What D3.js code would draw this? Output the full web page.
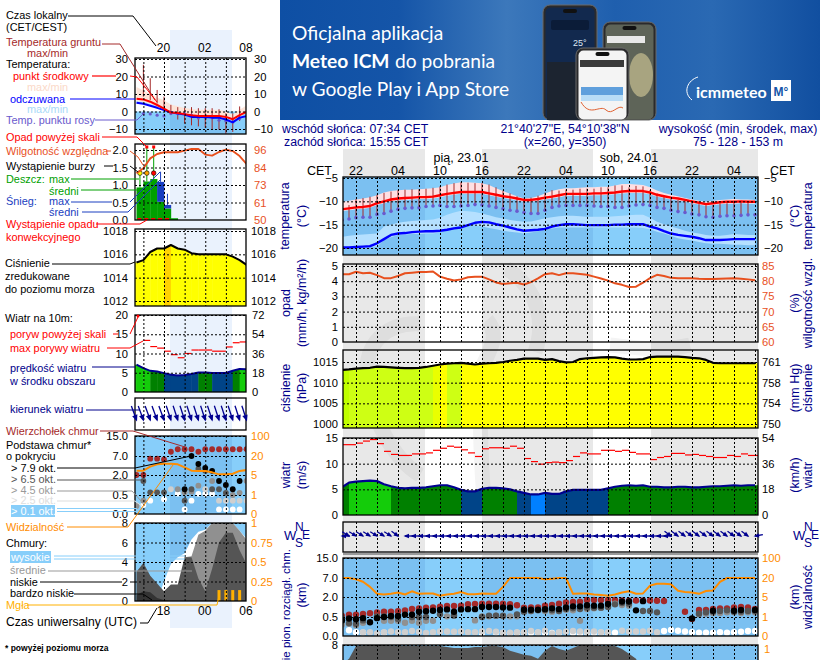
<!DOCTYPE html>
<html>
<head>
<meta charset="utf-8">
<script src="https://cdn.jsdelivr.net/npm/d3@7"></script>
<style>
html,body{margin:0;padding:0;background:#fff;overflow:hidden}
svg{display:block;font-family:"Liberation Sans",Arial,sans-serif}
</style>
</head>
<body>
<div id="chart"></div>
<script>
var n = null;

// ---- short chart (left), hours from 20 CET
var hoursL = d3.range(-4, 13);
var tempL = [7.3,6.9,5.6,3.7,1.7,-0.6,-0.8,-1.5,-2.1,-2.5,-2.5,-2.5,-2.5,-3.1,-4.4,-2.1,-0.2];
var tempMaxL = [14,12,10,8,6.5,4,3,2,1.5,1,1,1,1,0,-1.5,1,3.5];
var tempMinL = [6,5.5,4.5,2.5,0.8,-1.2,-1.5,-2.2,-2.8,-3.2,-3.2,-3.2,-3.2,-3.8,-5,-2.8,-1];
var feelsL = [5,4.4,3.3,2.1,0.8,-0.4,-1.2,-1.7,-3.1,-3.1,-3.1,-3.5,-3.5,-4.6,-6.2,-3.5,-2.7];
var feelsMaxL = [6,5.5,4.5,3,1.5,0,-0.8,-1.2,-2.5,-2.5,-2.5,-2.8,-2.8,-3.8,-5.5,-2.8,-2];
var dewL = [n,-1.2,-1.4,-2.1,-2.5,-1.2,-1.2,-1.2,-2.1,-3.7,-3.5,-3.5,-5,-5.4,-6,-4,n];
var groundMaxL = [n,26.7,19,12.3,8.5,3.8,2.5,2.1,2.5,1.9,1.9,1.9,1.3,-1,-1,2.9,n];
var groundMinL = [n,8.5,6.5,4.6,0.8,-1.5,-4.6,-6.9,-7.9,-8.5,-9.4,-10.4,-10.4,-12.7,-11.7,-5.4,n];
var rainL = [0.93,1.1,1.17,0.52,0.33,0.05,0,0,0,0,0,0,0,0,0,0,0];
var snowL = [0,0,0,0.57,0.1,0,0,0,0,0,0,0,0,0,0,0,0];
var rainMaxL = [1.33,2.3,2.3,0,0,0,0,0,0,0,0,0,0,0,0,0,0];
var snowMaxL = [0,0,0,1.38,0.75,0,0,0,0,0,0,0,0,0,0,0,0];
var stormL = [1,2,3,0,0,0,0,0,0,0,0,0,0,0,0,0,0];
var convL = [1,1,1,1,1,0,0,0,0,0,0,0,0,0,0,0,0];
var humL = [80.7,84,90.5,93.4,94.5,94.5,94.5,95.6,96.7,96.7,93,92.3,94.7,96.2,95.3,92,86.8];
var pressL = [1015.3,1015.5,1016.2,1016.5,1016.5,1016.8,1016.5,1016.4,1016.1,1016,1016,1016,1016,1016,1015.8,1015.5,1015.1];
var pressToneL = [0,0,0,0,4,0,0,0,0,0,0,0,0,0,0,0,0];
var windL = [7.1,6.2,5.5,5.3,4.9,4.5,4.3,4.4,4.7,5.05,5.05,4.95,4.95,4.95,5.5,6,5.9];
var gustL = [n,13.4,11.8,11.4,10.6,9.7,8.9,10,10.9,10.9,10.9,10.6,10.6,11.7,12.8,13,n];
var dirL = [70,70,70,70,70,72,72,72,72,72,72,72,72,72,72,72,72];
var visL = [8.4,8.4,11.6,13.4,13.9,13.9,13.4,11,8.4,8.2,8.2,7.1,5.5,5.5,6,8.2,8.9];
var topL = [2,2,6.3,6.3,6.1,8.7,9.7,9.7,9.7,8.7,9.7,9.7,9.7,9.7,9.7,9.7,9.7];
var base79L = [n,n,n,n,n,n,n,0.93,7,4.9,3.9,3.1,1.55,1.25,0.93,1.55,n];
var base65L = [n,1.55,0.7,0.7,0.7,n,n,0.35,0.93,3.6,3.1,0.93,0.93,0.66,n,n,n];
var base45L = [0.21,0.35,n,n,n,n,0.93,0.7,0.75,1.2,n,1.55,n,n,0.5,0.66,1.55];
var base25L = [0.21,n,n,n,n,0.93,n,0.7,n,n,0.93,n,0.35,0.35,0.35,0.35,0.35];
var base01L = [n,0.24,0.35,n,0.39,n,0.6,0.12,0.35,0.59,0.59,0.59,0.12,0.12,0.12,0.12,n];
var cloudHighL = [0,0,0,0,2,3.8,4.5,4.9,6.3,7.1,7.3,8,8,8,8,7.2,6.4];
var cloudMidL = [0,0,0,0,0,0,0,4.5,4.6,6.8,7.2,8,8,8,8,7.2,6.3];
var cloudLowL = [3,3.9,2.6,1.8,1,1.7,1.7,4.5,4.5,2.3,1,3.3,6,7,7,5.2,3.8];
var cloudVeryLowL = [0.6,1,0.9,0.3,0.1,0,0,0,0,0,0,0,0,0,0,0,0];
var fogL = [0,0,0,0,0,0,0,0,0,0,0,0,0.14,0.14,0.14,0.14,0];

// ---- long chart (right), hours from 22 CET
var hoursR = d3.range(-2, 58);
var tempR = [-11.7,-11.5,-11.3,-11.2,-11.0,-10.4,-10.0,-9.6,-9.4,-9.3,-9.2,-9.1,-9.1,-9.0,-8.7,-8.4,-8.2,-8.0,-8.0,-8.0,-8.0,-8.3,-8.6,-8.9,-9.1,-9.4,-9.7,-9.7,-9.5,-9.2,-9.0,-8.7,-8.4,-8.4,-8.4,-8.4,-8.3,-8.3,-8.2,-8.1,-7.9,-7.8,-7.8,-7.8,-8.1,-8.6,-8.9,-9.2,-9.4,-9.7,-10.0,-10.3,-10.6,-10.4,-10.2,-10.1,-10.1,-10.0,-10.1,-10.1];
var tempMaxR = [-10.1,-9.9,-9.6,-9.4,-9.1,-8.7,-8.1,-7.8,-7.6,-7.5,-7.5,-7.4,-7.3,-7.2,-7.0,-6.5,-6.2,-5.9,-5.9,-6.0,-6.1,-6.5,-7.2,-7.8,-8.4,-8.9,-9.4,-9.3,-8.9,-8.3,-7.8,-7.4,-7.2,-7.2,-7.1,-7.0,-7.0,-6.9,-6.9,-6.6,-6.3,-6.3,-6.4,-6.5,-7.0,-7.7,-8.2,-8.6,-8.9,-9.3,-9.6,-9.9,-10.1,-9.9,-9.7,-9.6,-9.5,-9.6,-9.6,-9.7];
var tempMinR = [-12.1,-11.9,-11.7,-11.6,-11.4,-10.8,-10.4,-10.0,-9.8,-9.7,-9.6,-9.5,-9.5,-9.4,-9.1,-8.8,-8.6,-8.4,-8.4,-8.4,-8.4,-8.7,-9.0,-9.3,-9.5,-9.8,-10.1,-10.1,-9.9,-9.6,-9.4,-9.1,-8.8,-8.8,-8.8,-8.8,-8.7,-8.7,-8.6,-8.5,-8.3,-8.2,-8.2,-8.2,-8.5,-9.0,-9.3,-9.6,-9.8,-10.1,-10.4,-10.7,-11.0,-10.8,-10.6,-10.5,-10.5,-10.4,-10.5,-10.5];
var feelsR = [-19.9,-19.9,-19.8,-19.7,-19.6,-19.0,-18.1,-17.2,-16.9,-16.8,-16.6,-16.5,-16.4,-16.4,-16.3,-16.1,-15.8,-15.6,-15.1,-14.6,-14.4,-14.5,-14.9,-15.2,-15.6,-16.0,-16.3,-16.2,-16.1,-15.9,-15.4,-15.1,-14.9,-14.9,-15.0,-15.1,-15.1,-15.1,-15.1,-15.0,-15.0,-14.9,-14.9,-14.9,-15.4,-15.8,-16.4,-16.9,-17.2,-17.4,-17.6,-17.9,-18.3,-18.3,-18.3,-18.2,-18.1,-18.1,-18.1,-18.1];
var feelsMaxR = [-17.6,-17.4,-17.2,-17.1,-17.0,-16.9,-15.4,-15.0,-14.6,-14.4,-14.2,-14.1,-14.0,-13.9,-13.5,-12.9,-12.4,-12.0,-12.1,-12.3,-12.6,-13.0,-13.4,-13.7,-14.0,-14.2,-14.4,-14.3,-14.0,-13.6,-13.4,-13.2,-13.1,-13.1,-13.2,-13.3,-13.3,-13.3,-13.3,-13.2,-13.1,-13.0,-12.9,-12.9,-13.5,-14.4,-14.9,-15.4,-15.8,-16.3,-16.7,-16.9,-17.2,-17.4,-17.4,-17.2,-17.0,-17.1,-17.2,-17.2];
var feelsMinR = [-20.1,-20.0,-20.0,-19.9,-19.8,-19.7,-18.3,-17.7,-17.2,-17.1,-17.0,-17.0,-16.9,-16.9,-16.6,-16.0,-15.5,-15.1,-15.1,-15.2,-15.4,-15.7,-16.0,-16.3,-16.5,-16.7,-16.9,-16.7,-16.4,-16.0,-15.8,-15.6,-15.6,-15.6,-15.6,-15.6,-15.6,-15.6,-15.6,-15.6,-15.6,-15.6,-15.6,-15.7,-16.0,-16.5,-16.9,-17.4,-17.9,-18.2,-18.4,-18.7,-19.0,-19.1,-19.1,-19.2,-19.3,-19.3,-19.4,-19.4];
var dewR = [-14.0,-13.8,-13.5,-13.4,-13.4,-12.8,-12.6,-12.1,-11.7,-11.5,-11.4,-11.4,-11.1,-11.0,-10.9,-11.1,-11.1,-11.0,-10.9,-10.7,-10.8,-11.0,-11.3,-11.6,-11.9,-12.1,-12.4,-12.6,-12.6,-11.9,-11.3,-11.0,-10.9,-10.9,-10.9,-10.9,-11.0,-11.1,-11.1,-11.3,-11.3,-11.0,-10.8,-10.7,-10.9,-11.3,-11.5,-11.9,-12.2,-12.4,-12.7,-12.9,-13.3,-13.4,-13.2,-13.1,-13.1,-13.0,-12.9,-12.9];
var groundMaxR = [n,-10.8,-9.5,-9.3,-9.0,-8.6,-8.2,-7.9,-7.6,-7.5,-7.4,-7.4,-7.3,-7.1,-6.8,-6.4,-6.1,-5.9,-6.0,-6.1,-6.1,-6.4,-7.0,-7.7,-8.3,-8.9,-9.4,-9.2,-8.8,-8.1,-7.6,-7.7,-7.5,-7.5,-7.3,-7.3,-7.3,-7.0,-7.0,-6.6,-6.6,-7.0,-6.7,-6.8,-7.6,-8.3,-9.0,-9.4,-9.7,-9.7,-10.1,-10.6,-10.8,-10.8,-10.4,-10.4,-9.9,-9.9,-9.9,n];
var groundMinR = [n,-13.6,-13.3,-13.2,-13.2,-12.6,-12.4,-11.9,-11.5,-11.3,-11.2,-11.2,-10.9,-10.8,-10.7,-10.9,-10.9,-10.8,-10.7,-10.5,-10.6,-10.8,-11.1,-11.4,-11.7,-11.9,-12.2,-12.4,-12.4,-11.7,-11.1,-10.8,-10.7,-10.7,-10.7,-10.7,-10.8,-10.9,-10.9,-11.1,-11.1,-10.8,-10.6,-10.5,-10.7,-11.1,-11.3,-11.7,-12.0,-12.2,-12.5,-12.7,-13.1,-13.2,-13.0,-12.9,-12.9,-12.8,-12.7,n];
var humR = [82.3,82.3,83.1,82.6,82.8,82,81,81,81.7,82.6,82.8,83,83,83.2,81.5,80.8,80.2,80.6,81.3,81.5,81.5,80.6,79.6,79.1,79.3,79.5,78.9,79.7,80.9,82.3,82.6,82.0,82.6,82.6,82.4,82.1,81.5,80.9,80.2,79.3,78.8,78.1,78.2,79.5,81.0,82.1,81.7,81.1,81.0,81.0,81.0,80.8,80.7,80.7,80.8,80.9,81.0,80.8,80.6,80.3];
var pressR = [1013.1,1013.2,1013.4,1013.5,1013.6,1013.9,1013.8,1013.7,1013.6,1013.5,1013.5,1013.6,1013.8,1014.1,1014.4,1014.6,1014.7,1014.8,1014.6,1014.4,1014.6,1014.7,1014.8,1015.0,1015.3,1015.5,1015.8,1015.8,1015.8,1015.5,1015.7,1015.2,1014.9,1015.0,1015.7,1015.9,1016.0,1016.1,1016.2,1016.1,1015.8,1015.6,1015.6,1015.7,1016.2,1016.3,1016.3,1016.3,1016.3,1016.2,1016.0,1015.9,1015.5,1014.8,1014.7,1014.7,1014.7,1014.7,1014.7,1014.7];
var pressToneR = [3,2,2,2,2,2,2,2,2,2,2,2,2,1,0,2,2,0,0,0,0,0,0,0,0,0,0,0,0,0,0,0,0,0,0,0,0,0,0,0,0,0,0,0,0,0,0,0,0,0,0,0,0,0,0,0,0,0,0,0];
var windR = [5.4,6.3,6.5,6.6,6.7,6.6,6.0,5.6,5.3,5.2,5.3,5.3,5.4,5.6,5.8,5.8,5.4,4.9,4.6,4.6,5.1,5.3,5.3,5.2,5.0,4.6,4.3,4.0,4.0,4.3,4.1,4.1,4.6,4.9,4.9,4.9,4.9,4.9,5.2,5.5,5.7,5.8,5.7,5.8,5.5,5.5,5.4,5.4,5.5,5.5,5.4,5.4,5.5,5.6,5.6,5.7,5.8,5.7,5.8,5.8];
var gustR = [13.7,13.7,14.0,14.4,14.7,13.9,12.4,11.8,11.6,11.6,11.9,11.9,12.1,12.6,13.0,13.4,13.2,12.7,12.1,11.4,12.9,13.1,13.1,13.0,13.4,13.0,11.0,10.4,9.9,10.2,10.3,10.2,10.6,11.4,12.1,11.9,11.9,12.6,12.6,12.4,12.6,12.2,11.9,11.9,10.8,11.2,11.4,12.0,12.0,11.7,11.8,11.6,11.4,11.2,11.2,11.6,11.4,11.9,11.6,11.6];
var dirR = [180,32,32,32,32,32,32,32,36,180,180,180,180,180,180,180,180,180,180,180,180,180,180,180,180,180,180,180,180,180,180,180,180,180,180,180,180,180,180,180,180,180,180,180,180,180,180,36,36,36,36,36,36,36,36,36,36,36,36,170];
var visR = [20,20,19,17,13,7.5,7,7.5,8.5,7,9.5,7.5,7.7,7.7,6,7,7.5,9,7.2,7.2,7.8,7.5,7.5,13,20,20,20,20,20,19,19.5,20,20,7.5,7.8,7.8,7,6.5,6,7,8.5,9.5,7.6,7.8,14,15.5,15.5,15,10,9,8.5,7.5,9.7,10.2,17,20,20,20,20,20];
var topR = [0.58,0.68,0.68,0.73,0.78,0.84,0.89,0.89,0.94,1.0,1.1,1.15,1.2,1.22,1.28,1.33,1.33,1.35,1.46,1.48,1.5,1.5,1.5,1.5,1.46,1.38,1.2,1.22,1.22,1.35,1.4,1.5,1.59,1.62,1.64,1.77,1.77,1.77,1.77,1.77,1.74,1.72,1.74,1.74,1.74,1.72,1.7,n,n,0.89,0.45,1.02,1.02,1.1,1.15,1.15,1.22,1.25,1.22,1.1];
var base79R = [0.41,0.46,0.44,0.47,0.36,0.47,0.5,0.58,0.58,0.68,0.68,0.89,0.94,0.97,1.02,1.07,0.89,1.07,1.09,1.09,1.25,1.25,1.25,1.22,1.2,n,1.04,1.04,1.04,1.09,1.15,1.09,1.22,1.3,1.3,1.38,1.35,1.35,1.48,n,1.66,1.66,1.0,1.69,n,n,n,n,n,n,0.46,n,n,0.97,n,n,0.97,1.02,n,1.02];
var base65R = [0.47,0.34,0.32,0.41,n,0.55,0.55,0.5,0.45,n,0.5,0.5,0.5,n,0.7,n,0.6,n,n,n,0.5,0.6,0.6,0.6,n,0.7,0.9,0.95,1,1.02,1.0,0.95,1.1,1.15,1.1,1.2,1.2,1.2,1.25,1.45,1.55,1.5,n,0.95,0.95,0.85,n,n,n,n,n,0.75,0.85,0.9,0.95,1,0.9,0.9,0.95,0.95];
var base45R = [0.3,0.32,0.28,0.35,n,n,0.4,0.4,0.4,0.35,0.4,0.35,0.4,0.4,n,0.55,0.65,n,n,0.41,0.55,0.55,0.6,0.55,0.55,0.55,0.95,0.95,n,0.95,0.9,0.95,1.05,1.0,0.4,1.1,1.15,1.2,1.4,1.5,1.4,1.35,n,n,n,n,n,n,n,n,n,0.7,0.75,0.8,0.8,0.85,0.85,0.8,0.85,0.85];
var base25R = [n,n,n,0.1,0.1,0.07,0.1,0.12,0.1,0.1,0.13,0.11,0.08,0.1,0.12,0.12,0.11,0.12,0.1,0.1,0.12,0.13,0.11,0.09,0.09,0.1,0.1,0.13,0.1,0.14,0.07,0.1,0.11,0.13,0.12,0.11,0.12,0.1,0.1,n,0.14,0.12,0.12,0.12,0.14,0.1,n,n,n,n,n,n,n,n,n,n,n,n,n,n];
var base01R = [n,0.15,0.1,0.09,n,n,0.09,n,n,n,n,n,n,n,n,n,n,n,n,n,0.08,n,0.09,0.08,0.07,0.08,0.09,0.08,0.09,0.08,0.08,0.08,n,0.08,0.06,0.09,0.08,0.09,0.08,0.09,n,n,n,n,n,n,0.13,0.16,0.14,0.12,0.1,0.09,0.09,0.09,0.1,0.09,0.1,0.11,0.13,0.13];
var cloudLowR = [6,6.6,7.9,7.95,8,8,8,7.95,7.9,7.9,7.9,7.9,7.9,7.9,7.9,7.8,7.7,7.7,7.7,7.8,7.8,7.9,7.9,7.8,7.4,7.2,7,6.9,6.6,7.4,7.9,7.6,7.4,7.7,8,8,7.95,7.9,7.9,7.9,7.6,7.1,6.6,5,4,3,3,3,3,3,3,3,3,3,3,3,3,3,3,3];

// axis labels
var dateLabels = [["pią, 23.01", 15], ["sob, 24.01", 39]];
var localTicksR = ["22","04","10","16","22","04","10","16","22","04"];
var tickTempL = [30,20,10,0,-10];
var tickRainL = [2,1.5,1,0.5,0];
var tickHumL = ["96","84","73","61","50"];
var tickPressL = [1018,1016,1014,1012];
var tickWindL = [20,15,10,5,0];
var tickWindKmL = ["72","54","36","18","0"];
var tickCloudBase = [15,7,2,0.5,0];
var tickVis = ["100","20","5","1","0"];
var tickOkta = [8,6,4,2,0];
var tickFog = ["1","0.75","0.5","0.25","0"];
var tickTempR = [-5,-10,-15,-20];
var tickRainR = [5,4,3,2,1,0];
var tickHumR = ["85","80","75","70","65","60"];
var tickPressR = [1015,1010,1005,1000];
var tickPressHgR = ["761","758","754","750"];
var tickWindR = [15,10,5,0];
var tickWindKmR = ["54","36","18","0"];

var INK = "#000", NAVY = "#00008b";
var RED = "#f00", BLUE = "#0000ff", BROWN = "#a52a2a", HUM = "#e8501e", ORANGE = "#ff8c00", DEW = "#6a5acd", FOG = "#ffb000";
var SKY = "#87cefa", NIGHT = "rgba(10,60,150,0.09)";
var BASECOL = {top: "#a52a2a", c79: "#000", c65: "#555", c45: "#909090", c25: "#cfcfcf", c01: "#fff"};
var NIGHTS_R = [[343, 425], [482, 593], [651, 758]];

var svg = d3.select("#chart").append("svg").attr("width", 820).attr("height", 660);
var defs = svg.append("defs");
var clipCount = 0;

// text helper, all annotation goes through here
function put(g, s, x, y, col, size, anchor, weight) {
  return g.append("text").attr("x", x).attr("y", y).attr("fill", col || INK)
    .attr("font-size", size || 10.9).attr("text-anchor", anchor || "start")
    .attr("font-weight", weight || null).text(s);
}
function leader(g, pts, col, w) {
  g.append("path").attr("d", d3.line()(pts)).attr("fill", "none")
    .attr("stroke", col).attr("stroke-width", w || 1);
}
function vtitle(g, s, x, y, size) {
  g.append("text").attr("transform", "translate(" + x + "," + y + ") rotate(-90)")
    .attr("text-anchor", "middle").attr("fill", NAVY).attr("font-size", size || 12.5).text(s);
}

function panel(o) {
  var id = "clip" + (clipCount++);
  defs.append("clipPath").attr("id", id).append("rect")
    .attr("x", o.x0).attr("y", o.y0).attr("width", o.x1 - o.x0).attr("height", o.y1 - o.y0);
  var g = svg.append("g");
  var marks = g.append("g").attr("clip-path", "url(#" + id + ")");
  return {g: g, marks: marks, o: o, id: id};
}
function closePanel(p, x, y, gridH, gridV) {
  var o = p.o;
  var grid = p.g.append("g").attr("clip-path", "url(#" + p.id + ")");
  if (gridH) {
    grid.append("g").attr("transform", "translate(" + o.x0 + ",0)")
      .call(d3.axisRight(y).tickValues(gridH).tickSize(o.x1 - o.x0).tickFormat(""))
      .call(styleGrid);
  }
  grid.append("g").attr("transform", "translate(0," + o.y0 + ")")
    .call(d3.axisBottom(x).tickValues(gridV).tickSize(o.y1 - o.y0).tickFormat(""))
    .call(styleGrid);
  p.g.append("rect").attr("x", o.x0).attr("y", o.y0).attr("width", o.x1 - o.x0).attr("height", o.y1 - o.y0)
    .attr("fill", "none").attr("stroke", "#000").attr("stroke-width", 1.3);
}
function styleGrid(sel) {
  sel.select(".domain").remove();
  sel.selectAll("line").attr("stroke", "#000").attr("stroke-width", 1).attr("stroke-dasharray", "2,2");
}
function tickLabels(g, y, vals, fmt, at, side, col, size) {
  var ax = side == "left" ? d3.axisLeft(y) : d3.axisRight(y);
  var t = g.append("g").attr("transform", "translate(" + at + ",0)")
    .call(ax.tickValues(vals).tickSize(0).tickPadding(0).tickFormat(fmt));
  t.select(".domain").remove();
  t.selectAll("text").attr("fill", col || INK).attr("font-size", size || 11.2)
    .attr("font-family", '"Liberation Sans",Arial,sans-serif');
}
function lookup(vals, labels) {
  return function(v) { return labels[vals.indexOf(v)]; };
}

function drawLine(g, x, y, hours, vals, col, w) {
  var line = d3.line().defined(function(d) { return d[1] !== null; })
    .x(function(d) { return x(d[0]); }).y(function(d) { return y(d[1]); });
  g.append("path").attr("d", line(hours.map(function(h, i) { return [h, vals[i]]; })))
    .attr("fill", "none").attr("stroke", col).attr("stroke-width", w).attr("stroke-linejoin", "round");
}
function drawBand(g, x, y, hours, hi, lo, col) {
  var area = d3.area().x(function(d) { return x(d[0]); })
    .y0(function(d) { return y(d[2]); }).y1(function(d) { return y(d[1]); });
  g.append("path").attr("d", area(hours.map(function(h, i) { return [h, hi[i], lo[i]]; }))).attr("fill", col);
}
function drawDots(g, x, y, hours, vals, col, r) {
  hours.forEach(function(h, i) {
    if (vals[i] === null) return;
    g.append("circle").attr("cx", x(h)).attr("cy", y(vals[i])).attr("r", r).attr("fill", col);
  });
}
function drawVBars(g, x, y, hours, hi, lo, col, w) {
  hours.forEach(function(h, i) {
    if (hi[i] === null) return;
    g.append("line").attr("x1", x(h)).attr("x2", x(h)).attr("y1", y(hi[i])).attr("y2", y(lo[i]))
      .attr("stroke", col).attr("stroke-width", w);
  });
}
// area under a curve, cut in hourly columns coloured from a scale
function toneArea(p, x, y, hours, vals, colorOf, base) {
  var id = "clip" + (clipCount++);
  var area = d3.area().x(function(d) { return x(d[0]); }).y0(y(base)).y1(function(d) { return y(d[1]); });
  var ext = [[x.invert(p.o.x0) - 1, vals[0]]].concat(hours.map(function(h, i) { return [h, vals[i]]; }));
  ext.push([x.invert(p.o.x1) + 1, vals[vals.length - 1]]);
  defs.append("clipPath").attr("id", id).append("path").attr("d", area(ext));
  var layer = p.marks.append("g").attr("clip-path", "url(#" + id + ")");
  ext.slice(0, -1).forEach(function(d, i) {
    var h1 = ext[i + 1][0];
    var col = colorOf(i == 0 ? 0 : i - 1);
    layer.append("rect").attr("x", x(d[0])).attr("width", x(h1) - x(d[0]) + 0.4)
      .attr("y", p.o.y0).attr("height", p.o.y1 - p.o.y0).attr("fill", col);
  });
}
function drawGust(g, x, y, hours, vals) {
  hours.forEach(function(h, i) {
    if (vals[i] === null) return;
    g.append("line").attr("x1", x(h)).attr("x2", x(h + 1)).attr("y1", y(vals[i])).attr("y2", y(vals[i]))
      .attr("stroke", RED).attr("stroke-width", 1.2);
  });
}
function drawArrows(g, x, hours, dirs, yAt, len, head, col) {
  hours.forEach(function(h, i) {
    var a = dirs[i] * Math.PI / 180, hx = x(h), hy = yAt;
    var ux = Math.cos(a), uy = Math.sin(a);
    g.append("line").attr("x1", hx - ux * len).attr("y1", hy - uy * len).attr("x2", hx).attr("y2", hy)
      .attr("stroke", col).attr("stroke-width", 1.3);
    var bx = hx - ux * head, by = hy - uy * head;
    var tri = [[hx + ux * 1.5, hy + uy * 1.5], [bx - uy * head * 0.55, by + ux * head * 0.55], [bx + uy * head * 0.55, by - ux * head * 0.55]];
    g.append("path").attr("d", d3.line()(tri) + "Z").attr("fill", col);
  });
}

var windColor = d3.scaleThreshold().domain([4.05, 5, 6]).range(["#0080ff", "#004488", "#008000", "#14cc0a"]);
var toneColor = d3.scaleOrdinal().domain([0, 1, 2, 3, 4]).range(["#ffff00", "#eaff00", "#ceff14", "#c0ff00", "#ffd200"]);

// ================= page backgrounds ==================
var xR = d3.scaleLinear().domain([0, 57]).range([356, 755]);
svg.append("g").selectAll("rect").data(NIGHTS_R).join("rect")
  .attr("x", function(d) { return d[0]; }).attr("width", function(d) { return d[1] - d[0]; })
  .attr("y", 149).attr("height", 511).attr("fill", "#e8e8e8");
// faint watermark swirl
var wm = svg.append("g").attr("fill", "none").attr("stroke", "rgba(0,0,0,0.045)").attr("stroke-width", 15);
wm.append("path").attr("d", "M420,324 C385,322 365,345 367,375 C370,420 395,460 420,475");
wm.append("path").attr("d", "M487,320 C500,335 490,350 483,365 C478,400 480,450 485,515");
wm.append("path").attr("d", "M506,268 C540,290 545,325 535,352");
wm.append("path").attr("d", "M610,345 C640,348 660,352 690,345");
// night band of the short chart
svg.append("rect").attr("x", 170).attr("y", 30).attr("width", 62).attr("height", 598).attr("fill", "#eaf2fd");

// ================= banner ==================
var grad = defs.append("linearGradient").attr("id", "bannerBg");
[[0, "#0e4fa4"], [0.22, "#1555a8"], [0.42, "#3c78bb"], [0.62, "#1f5fae"], [0.8, "#2a69b3"], [1, "#114fa0"]].forEach(function(s) {
  grad.append("stop").attr("offset", s[0]).attr("stop-color", s[1]);
});
var ban = svg.append("g");
ban.append("rect").attr("x", 280).attr("y", 0).attr("width", 540).attr("height", 120).attr("fill", "url(#bannerBg)");
function phone(x, y, w, h, screen) {
  ban.append("rect").attr("x", x).attr("y", y).attr("width", w).attr("height", h).attr("rx", 7).attr("fill", "#2a2a2c").attr("stroke", "#6a6a6a");
  ban.append("rect").attr("x", x + 2.5).attr("y", y + 2.5).attr("width", w - 5).attr("height", h - 3).attr("rx", 5).attr("fill", screen);
  ban.append("rect").attr("x", x + w / 2 - 7).attr("y", y + 4).attr("width", 14).attr("height", 4).attr("rx", 2).attr("fill", "#111");
}
phone(543, 5, 54, 115, "#12294e");
ban.append("rect").attr("x", 551).attr("y", 20).attr("width", 38).attr("height", 10).attr("rx", 2).attr("fill", "#0b1c38");
put(ban, "25°", 573, 46, "#dfe8f4", 9);
ban.append("rect").attr("x", 547).attr("y", 62).attr("width", 44).attr("height", 58).attr("fill", "#1c2430");
phone(603, 22, 53, 98, "#5e6458");
ban.append("rect").attr("x", 607).attr("y", 36).attr("width", 38).attr("height", 7).attr("fill", "#e8e8e8");
ban.append("ellipse").attr("cx", 641).attr("cy", 75).attr("rx", 12).attr("ry", 22).attr("fill", "#a8a480");
phone(576, 48, 53, 72, "#f4f4f4");
ban.append("rect").attr("x", 580).attr("y", 60).attr("width", 44).attr("height", 7).attr("fill", "#3a3a3a");
ban.append("rect").attr("x", 581).attr("y", 87).attr("width", 42).attr("height", 8).attr("fill", "#5f9fdc");
ban.append("rect").attr("x", 581).attr("y", 95).attr("width", 42).attr("height", 6).attr("fill", "#b8dcf6");
ban.append("path").attr("d", "M581,102 C590,118 600,104 606,110 C612,116 618,104 623,108").attr("fill", "none").attr("stroke", "#e06030");
function lato(s, x, y, size, weight) {
  return put(ban, s, x, y, "#fff", size, "start", weight).attr("font-family", "Lato");
}
lato("Oficjalna aplikacja", 292, 40, 19.2);
lato("Meteo ICM", 292, 68, 19.2, "bold");
lato("do pobrania", 395, 68, 19.2);
lato("w Google Play i App Store", 292, 96, 19.2);
lato("icmmeteo", 696, 98, 16, "bold");
ban.append("path").attr("d", "M692,100 C682,92 688,80 698,77").attr("fill", "none").attr("stroke", "#fff").attr("stroke-width", 1);
ban.append("rect").attr("x", 771).attr("y", 80).attr("width", 20).attr("height", 21).attr("fill", "#fff");
put(ban, "M°", 781, 96, "#1555a8", 12, "middle", "bold");

// ================= header texts ==================
var head = svg.append("g");
put(head, "wschód słońca: 07:34 CET", 282, 133, NAVY, 12.3);
put(head, "zachód słońca: 15:55 CET", 284, 146, NAVY, 12.3);
put(head, "21°40'27\"E, 54°10'38\"N", 565, 133, NAVY, 12.3, "middle");
put(head, "(x=260, y=350)", 565, 146, NAVY, 12.3, "middle");
put(head, "wysokość (min, środek, max)", 738, 133, NAVY, 12.3, "middle");
put(head, "75 - 128 - 153 m", 738, 146, NAVY, 12.3, "middle");
dateLabels.forEach(function(d) { put(head, d[0], xR(d[1]), 162, INK, 12.5, "middle"); });
localTicksR.forEach(function(s, i) { put(head, s, xR(i * 6), 175, INK, 12.5, "middle"); });
put(head, "CET", 307, 175, INK, 12.5);
put(head, "CET", 770, 175, INK, 12.5);

var gridR = d3.range(0, 58, 3);

function skyBack(p, y0, y1) {
  p.marks.append("rect").attr("x", 343).attr("y", y0).attr("width", 415).attr("height", y1 - y0).attr("fill", SKY);
  NIGHTS_R.forEach(function(b) {
    p.marks.append("rect").attr("x", b[0]).attr("y", y0).attr("width", b[1] - b[0]).attr("height", y1 - y0).attr("fill", NIGHT);
  });
}

// ================= long chart panels ==================
var pr, yy;
// temperature
pr = panel({x0: 343, x1: 758, y0: 177, y1: 255});
yy = d3.scaleLinear().domain([-5, -20]).range([178, 248]);
skyBack(pr, 177, 255);
drawBand(pr.marks, xR, yy, hoursR, tempMaxR, tempMinR, "#ffdfe2");
drawBand(pr.marks, xR, yy, hoursR, feelsMaxR, feelsMinR, "#b5e0ff");
drawVBars(pr.marks, xR, yy, hoursR, groundMaxR, groundMinR, BROWN, 1);
drawDots(pr.marks, xR, yy, hoursR, dewR, DEW, 1.8);
drawLine(pr.marks, xR, yy, hoursR, tempR, RED, 2.4);
drawLine(pr.marks, xR, yy, hoursR, feelsR, BLUE, 2.4);
closePanel(pr, xR, yy, tickTempR, gridR);
tickLabels(svg, yy, tickTempR, d3.format("d"), 338, "left");
tickLabels(svg, yy, tickTempR, d3.format("d"), 764, "right");
vtitle(svg, "temperatura", 289, 216); vtitle(svg, "(°C)", 306, 216);
vtitle(svg, "(°C)", 799, 216); vtitle(svg, "temperatura", 812, 216);

// precipitation / humidity
pr = panel({x0: 343, x1: 758, y0: 264, y1: 342});
yy = d3.scaleLinear().domain([5, 0]).range([266, 342]);
var yHumR = d3.scaleLinear().domain([85, 60]).range([266, 342]);
drawLine(pr.marks, xR, yHumR, hoursR, humR, HUM, 2);
closePanel(pr, xR, yy, tickRainR, gridR);
tickLabels(svg, yy, tickRainR, d3.format("d"), 338, "left");
tickLabels(svg, yHumR, [85, 80, 75, 70, 65, 60], lookup([85, 80, 75, 70, 65, 60], tickHumR), 762, "right", HUM);
vtitle(svg, "opad", 290, 303); vtitle(svg, "(mm/h, kg/m²/h)", 306, 303);
vtitle(svg, "(%)", 799, 303); vtitle(svg, "wilgotność wzgl.", 812, 303);

// pressure
pr = panel({x0: 343, x1: 758, y0: 350, y1: 428});
yy = d3.scaleLinear().domain([1015, 1000]).range([362, 424]);
toneArea(pr, xR, yy, hoursR, pressR, function(i) { return toneColor(pressToneR[i]); }, 990);
drawLine(pr.marks, xR, yy, hoursR, pressR, "#000", 2.2);
closePanel(pr, xR, yy, tickPressR, gridR);
tickLabels(svg, yy, tickPressR, d3.format("d"), 338, "left");
tickLabels(svg, yy, tickPressR, lookup(tickPressR, tickPressHgR), 762, "right");
vtitle(svg, "ciśnienie", 290, 388); vtitle(svg, "(hPa)", 306, 388);
vtitle(svg, "(mm Hg)", 799, 388); vtitle(svg, "ciśnienie", 812, 388);

// wind
pr = panel({x0: 343, x1: 758, y0: 438, y1: 515});
yy = d3.scaleLinear().domain([15, 0]).range([438, 515]);
toneArea(pr, xR, yy, hoursR, windR, function(i) { return windColor(windR[i]); }, 0);
drawLine(pr.marks, xR, yy, hoursR, windR, "#000090", 2.2);
drawGust(pr.marks, xR, yy, hoursR, gustR);
closePanel(pr, xR, yy, tickWindR, gridR);
tickLabels(svg, yy, tickWindR, d3.format("d"), 338, "left");
tickLabels(svg, yy, tickWindR, lookup(tickWindR, tickWindKmR), 762, "right");
vtitle(svg, "wiatr", 290, 475); vtitle(svg, "(m/s)", 306, 475);
vtitle(svg, "(km/h)", 799, 475); vtitle(svg, "wiatr", 812, 475);

// wind direction
pr = panel({x0: 343, x1: 758, y0: 522, y1: 552});
yy = d3.scaleLinear().domain([1, 0]).range([522, 552]);
closePanel(pr, xR, yy, null, gridR);
svg.append("rect").attr("x", 343).attr("y", 553).attr("width", 415).attr("height", 2).attr("fill", "#999");
drawArrows(svg, xR, hoursR, dirR, 536, 8, 4, "#000090");
put(svg, "W", 284, 540, NAVY, 13); put(svg, "N", 295, 531, NAVY, 12); put(svg, "S", 295, 547, NAVY, 12); put(svg, "E", 302, 539, NAVY, 12);
put(svg, "W", 793, 540, NAVY, 13); put(svg, "N", 804, 531, NAVY, 12); put(svg, "S", 804, 547, NAVY, 12); put(svg, "E", 811, 539, NAVY, 12);

// cloud base / visibility
var basePxR = [636, 617, 597, 578, 558];
pr = panel({x0: 343, x1: 758, y0: 558, y1: 636});
yy = d3.scaleLinear().domain([0, 0.5, 2, 7, 15]).range(basePxR);
var yVisR = d3.scaleLinear().domain([0, 1, 5, 20, 100]).range(basePxR);
skyBack(pr, 558, 636);
drawDots(pr.marks, xR, yy, hoursR, topR, BASECOL.top, 3.2);
drawDots(pr.marks, xR, yy, hoursR, base01R, BASECOL.c01, 3.2);
drawDots(pr.marks, xR, yy, hoursR, base25R, BASECOL.c25, 3.2);
drawDots(pr.marks, xR, yy, hoursR, base45R, BASECOL.c45, 3.2);
drawDots(pr.marks, xR, yy, hoursR, base65R, BASECOL.c65, 3.2);
drawDots(pr.marks, xR, yy, hoursR, base79R, BASECOL.c79, 3.2);
drawLine(pr.marks, xR, yVisR, hoursR, visR, ORANGE, 2);
closePanel(pr, xR, yy, tickCloudBase, gridR);
tickLabels(svg, yy, tickCloudBase, d3.format(".1f"), 338, "left");
tickLabels(svg, yy, tickCloudBase, lookup(tickCloudBase, tickVis), 762, "right", ORANGE);
vtitle(svg, "(km)", 306, 595);
svg.append("text").attr("transform", "translate(290,549) rotate(-90)").attr("text-anchor", "end")
  .attr("fill", NAVY).attr("font-size", 11.5).text("zachmurzenie  pion. rozciągł. chm.");
vtitle(svg, "(km)", 799, 597); vtitle(svg, "widzialność", 812, 597);

// clouds (runs off the page)
pr = panel({x0: 343, x1: 758, y0: 645, y1: 723});
yy = d3.scaleLinear().domain([8, 0]).range([645, 723]);
skyBack(pr, 645, 723);
drawBand(pr.marks, xR, yy, hoursR, cloudLowR, cloudLowR.map(function() { return 0; }), "#555");
closePanel(pr, xR, yy, tickOkta, gridR);
tickLabels(svg, yy, [8], d3.format("d"), 338, "left");
put(svg, "1", 764, 653, ORANGE, 11.2);

// ================= short chart panels ==================
var xL = d3.scaleLinear().domain([0, 12]).range([164, 246.5]);
var gridL = [-3, 0, 3, 6, 9];
var gridSix = [0, 6, 12];
var pl;
["20", "02", "08"].forEach(function(s, i) { put(svg, s, xL(gridSix[i]) - 0.5, 52, INK, 12, "middle"); });
["18", "00", "06"].forEach(function(s, i) { put(svg, s, xL(gridSix[i]) - 0.5, 615, INK, 12, "middle"); });

function nightStripe(p, y0, y1) {
  p.marks.append("rect").attr("x", 170).attr("y", y0).attr("width", 62).attr("height", y1 - y0).attr("fill", NIGHT);
}
// temperature
pl = panel({x0: 135, x1: 246, y0: 58, y1: 134});
yy = d3.scaleLinear().domain([30, -10]).range([59, 129]);
pl.marks.append("rect").attr("x", 135).attr("y", yy(0)).attr("width", 111).attr("height", 134 - yy(0)).attr("fill", SKY);
nightStripe(pl, yy(0), 134);
drawBand(pl.marks, xL, yy, hoursL, tempMaxL, tempMinL, "#fde4d8");
drawBand(pl.marks, xL, yy, hoursL, feelsMaxL, feelsL, "#b5e0ff");
drawVBars(pl.marks, xL, yy, hoursL, groundMaxL, groundMinL, BROWN, 1);
drawDots(pl.marks, xL, yy, hoursL, dewL, DEW, 1.6);
drawLine(pl.marks, xL, yy, hoursL, feelsL, BLUE, 2);
drawLine(pl.marks, xL, yy, hoursL, tempL, RED, 2);
closePanel(pl, xL, yy, tickTempL, gridL);
tickLabels(svg, yy, tickTempL, d3.format("d"), 128, "left");
tickLabels(svg, yy, tickTempL, d3.format("d"), 254, "right");

// rain / humidity
pl = panel({x0: 135, x1: 246, y0: 144, y1: 220});
yy = d3.scaleLinear().domain([2, 0]).range([150, 220]);
var yHumL = d3.scaleLinear().domain([96, 50]).range([150, 220]);
hoursL.forEach(function(h, i) {
  if (rainL[i] > 0) pl.marks.append("rect").attr("x", xL(h)).attr("width", xL(h + 1) - xL(h) + 0.3)
    .attr("y", yy(rainL[i])).attr("height", 220 - yy(rainL[i])).attr("fill", "#00a000");
  if (snowL[i] > 0) pl.marks.append("rect").attr("x", xL(h)).attr("width", xL(h + 1) - xL(h) + 0.3)
    .attr("y", yy(rainL[i] + snowL[i])).attr("height", yy(rainL[i]) - yy(rainL[i] + snowL[i])).attr("fill", "#1a3ec0");
  if (rainMaxL[i] > 0) pl.marks.append("line").attr("x1", xL(h + 0.5)).attr("x2", xL(h + 0.5))
    .attr("y1", yy(rainL[i])).attr("y2", yy(Math.min(rainMaxL[i], 2.1))).attr("stroke", "#00a000");
  if (snowMaxL[i] > 0) pl.marks.append("line").attr("x1", xL(h + 0.5)).attr("x2", xL(h + 0.5))
    .attr("y1", yy(rainL[i] + snowL[i])).attr("y2", yy(snowMaxL[i])).attr("stroke", "#1a3ec0");
  if (rainMaxL[i] > 2) pl.marks.append("rect").attr("x", xL(h + 0.5) - 1.5).attr("y", 145.5).attr("width", 3).attr("height", 3).attr("fill", RED);
  if (stormL[i] > 0) pl.marks.append("circle").attr("cx", xL(h + 0.5)).attr("cy", yy(1.34)).attr("r", 2.3)
    .attr("fill", ["#ffff00", "#ffa500", "#ff0000"][stormL[i] - 1]).attr("stroke", "#000").attr("stroke-width", 0.6);
  if (convL[i] > 0) pl.marks.append("rect").attr("x", xL(h) + 1).attr("y", 218).attr("width", 4).attr("height", 2).attr("fill", RED);
});
drawLine(pl.marks, xL, yHumL, hoursL, humL, HUM, 1.9);
closePanel(pl, xL, yy, tickRainL, gridL);
tickLabels(svg, yy, tickRainL, d3.format(".1f"), 128, "left");
tickLabels(svg, yy, tickRainL, lookup(tickRainL, tickHumL), 254, "right", HUM);

// pressure
pl = panel({x0: 135, x1: 246, y0: 229, y1: 306});
yy = d3.scaleLinear().domain([1018, 1012]).range([231, 301]);
toneArea(pl, xL, yy, hoursL, pressL, function(i) { return toneColor(pressToneL[i]); }, 1000);
drawLine(pl.marks, xL, yy, hoursL, pressL, "#000", 2);
closePanel(pl, xL, yy, tickPressL, gridL);
tickLabels(svg, yy, tickPressL, d3.format("d"), 128, "left");
tickLabels(svg, yy, tickPressL, d3.format("d"), 251, "right");

// wind
pl = panel({x0: 135, x1: 246, y0: 315, y1: 392});
yy = d3.scaleLinear().domain([20, 0]).range([315, 392]);
toneArea(pl, xL, yy, hoursL, windL, function(i) { return windColor(windL[i]); }, 0);
drawLine(pl.marks, xL, yy, hoursL, windL, "#000090", 2);
drawGust(pl.marks, xL, yy, hoursL, gustL);
closePanel(pl, xL, yy, tickWindL, gridL);
tickLabels(svg, yy, tickWindL, d3.format("d"), 128, "left");
tickLabels(svg, yy, tickWindL, lookup(tickWindL, tickWindKmL), 252, "right");

// wind direction
pl = panel({x0: 135, x1: 246, y0: 398, y1: 430});
yy = d3.scaleLinear().domain([1, 0]).range([398, 430]);
closePanel(pl, xL, yy, null, gridL);
drawArrows(svg, xL, hoursL, dirL, 420, 15, 5, "#000090");

// cloud base / visibility
pl = panel({x0: 135, x1: 246, y0: 436, y1: 514});
yy = d3.scaleLinear().domain([0, 0.5, 2, 7, 15]).range([514, 495, 475, 456, 436]);
var yVisL = d3.scaleLinear().domain([0, 1, 5, 20, 100]).range([514, 495, 475, 456, 436]);
pl.marks.append("rect").attr("x", 135).attr("y", 436).attr("width", 111).attr("height", 78).attr("fill", SKY);
nightStripe(pl, 436, 514);
drawDots(pl.marks, xL, yy, hoursL, topL, BASECOL.top, 2.9);
drawDots(pl.marks, xL, yy, hoursL, base01L, BASECOL.c01, 2.9);
drawDots(pl.marks, xL, yy, hoursL, base25L, BASECOL.c25, 2.9);
drawDots(pl.marks, xL, yy, hoursL, base45L, BASECOL.c45, 2.9);
drawDots(pl.marks, xL, yy, hoursL, base65L, BASECOL.c65, 2.9);
drawDots(pl.marks, xL, yy, hoursL, base79L, BASECOL.c79, 2.9);
drawLine(pl.marks, xL, yVisL, hoursL, visL, ORANGE, 2);
closePanel(pl, xL, yy, tickCloudBase, gridL);
tickLabels(svg, yy, tickCloudBase, d3.format(".1f"), 128, "left");
tickLabels(svg, yy, tickCloudBase, lookup(tickCloudBase, tickVis), 251, "right", ORANGE);

// clouds
pl = panel({x0: 135, x1: 246, y0: 523, y1: 601});
yy = d3.scaleLinear().domain([8, 0]).range([523, 601]);
var yFogL = d3.scaleLinear().domain([1, 0]).range([523, 601]);
var zeroL = hoursL.map(function() { return 0; });
pl.marks.append("rect").attr("x", 135).attr("y", 523).attr("width", 111).attr("height", 78).attr("fill", SKY);
nightStripe(pl, 523, 601);
drawBand(pl.marks, xL, yy, hoursL, cloudHighL, zeroL, "#fff");
drawBand(pl.marks, xL, yy, hoursL, cloudMidL, zeroL, "#909090");
drawBand(pl.marks, xL, yy, hoursL, cloudLowL, zeroL, "#555");
drawBand(pl.marks, xL, yy, hoursL, cloudVeryLowL, zeroL, "#333");
hoursL.forEach(function(h, i) {
  if (fogL[i] > 0) pl.marks.append("rect").attr("x", xL(h) - 1.5).attr("width", 3)
    .attr("y", yFogL(fogL[i])).attr("height", 601 - yFogL(fogL[i])).attr("fill", FOG);
});
closePanel(pl, xL, yy, tickOkta, gridL);
tickLabels(svg, yy, tickOkta, d3.format("d"), 128, "left");
tickLabels(svg, yFogL, [1, 0.75, 0.5, 0.25, 0], lookup([1, 0.75, 0.5, 0.25, 0], tickFog), 251, "right", ORANGE);

// ================= legend of the short chart ==================
var leg = svg.append("g");
put(leg, "Czas lokalny", 6, 19);
put(leg, "(CET/CEST)", 6, 31);
leader(leg, [[68, 16], [133, 16], [156, 46]], "#000");
put(leg, "Temperatura gruntu", 6, 46, BROWN);
put(leg, "max/min", 27, 57, BROWN);
leader(leg, [[102, 44], [120, 44], [155, 100]], BROWN);
put(leg, "Temperatura:", 6, 68);
put(leg, "punkt środkowy", 13, 80, RED);
leader(leg, [[92, 76], [116, 76]], RED, 1.2);
leader(leg, [[130, 76], [137, 77], [157, 102]], RED);
put(leg, "max/min", 27, 91, "#fbd9c8");
put(leg, "odczuwana", 10, 103, BLUE);
leader(leg, [[70, 99], [135, 99]], BLUE);
put(leg, "max/min", 27, 113, "#a8daf8");
put(leg, "Temp. punktu rosy", 6, 124, DEW);
leader(leg, [[95, 120], [137, 120], [143, 114]], DEW);
put(leg, "Opad powyżej skali", 6, 141, RED);
leader(leg, [[102, 137], [137, 137], [146, 146]], RED);
put(leg, "Wilgotność względna", 6, 155, HUM);
leader(leg, [[106, 151], [111, 151]], HUM);
leader(leg, [[130, 151], [138, 157], [143, 165]], HUM);
put(leg, "Wystąpienie burzy", 6, 170);
leader(leg, [[104, 166], [113, 166]], "#000");
leader(leg, [[130, 166], [138, 172]], "#000");
put(leg, "Deszcz:", 6, 183, "#00a000");
put(leg, "max", 49, 183, "#00a000");
leader(leg, [[71, 179], [139, 179]], "#00a000");
put(leg, "średni", 49, 195, "#00a000");
leader(leg, [[81, 190], [143, 190]], "#00a000");
put(leg, "Śnieg:", 6, 205, "#1a3ec0");
put(leg, "max", 49, 205, "#1a3ec0");
leader(leg, [[71, 202], [112, 202]], "#1a3ec0");
leader(leg, [[130, 202], [160, 172]], "#1a3ec0");
put(leg, "średni", 49, 216, "#1a3ec0");
leader(leg, [[82, 212], [128, 212], [160, 180]], "#1a3ec0");
put(leg, "Wystąpienie opadu", 6, 228, RED);
put(leg, "konwekcyjnego", 6, 241, RED);
leader(leg, [[96, 224], [140, 224], [147, 220]], RED);
put(leg, "Ciśnienie", 5, 267);
put(leg, "zredukowane", 5, 280);
put(leg, "do poziomu morza", 5, 293);
leader(leg, [[52, 264], [130, 264], [135, 262]], "#000");
put(leg, "Wiatr na 10m:", 5, 322);
put(leg, "poryw powyżej skali", 10, 338, RED);
leader(leg, [[113, 334], [118, 334]], RED);
leader(leg, [[130, 334], [138, 317]], RED);
leg.append("circle").attr("cx", 138).attr("cy", 316).attr("r", 1.5).attr("fill", RED);
put(leg, "max porywy wiatru", 10, 352, RED);
leader(leg, [[107, 348], [130, 348], [143, 341]], RED);
put(leg, "prędkość wiatru", 10, 372, NAVY);
put(leg, "w środku obszaru", 10, 385, NAVY);
leader(leg, [[92, 367], [135, 367]], NAVY);
put(leg, "kierunek wiatru", 10, 413, NAVY);
leader(leg, [[86, 410], [140, 410]], NAVY);
put(leg, "Wierzchołek chmur", 6, 435, BROWN);
leader(leg, [[100, 431], [133, 431], [185, 447]], BROWN);
put(leg, "Podstawa chmur*", 6, 449);
put(leg, "o pokryciu", 6, 460);
put(leg, "> 7.9 okt.", 11, 472);
leader(leg, [[57, 468], [135, 468], [191, 456]], "#000");
put(leg, "> 6.5 okt.", 11, 483, "#555");
leader(leg, [[57, 480], [143, 480]], "#555");
put(leg, "> 4.5 okt.", 11, 494, "#999");
leader(leg, [[57, 491], [132, 491], [142, 502]], "#999");
put(leg, "> 2.5 okt.", 11, 504, "#ddd");
leader(leg, [[57, 501], [135, 501], [143, 507]], "#ddd");
leg.append("rect").attr("x", 11).attr("y", 505).attr("width", 44).attr("height", 12).attr("fill", SKY);
put(leg, "> 0.1 okt.", 11, 515, "#fff");
leader(leg, [[57, 508.5], [137, 508.5]], SKY);
leader(leg, [[57, 511.5], [137, 511.5]], SKY);
put(leg, "Widzialność", 6, 531, ORANGE);
leader(leg, [[67, 527], [128, 527], [173, 465]], ORANGE);
put(leg, "Chmury:", 6, 547);
leg.append("rect").attr("x", 10).attr("y", 551).attr("width", 41).attr("height", 12).attr("fill", SKY);
put(leg, "wysokie", 11, 561, "#fff");
leader(leg, [[54, 556], [185, 556]], SKY);
leader(leg, [[54, 559], [185, 559]], SKY);
put(leg, "średnie", 10, 574, "#999");
leader(leg, [[48, 571], [192, 571]], "#999");
put(leg, "niskie", 10, 586);
leader(leg, [[40, 582], [122, 582]], "#000");
leader(leg, [[130, 582], [135, 582]], "#000");
put(leg, "bardzo niskie", 10, 597);
leader(leg, [[74, 594], [143, 594], [152, 600]], "#000");
put(leg, "Mgła", 6, 609, FOG);
leader(leg, [[27, 605], [217, 605], [218.5, 598]], FOG);
put(leg, "Czas uniwersalny (UTC)", 6, 626, INK, 12.1);
leader(leg, [[140, 623], [148, 623], [157, 608]], "#000");
put(leg, "* powyżej poziomu morza", 5, 651, INK, 8.5, "start", "bold");
</script>
</body>
</html>
